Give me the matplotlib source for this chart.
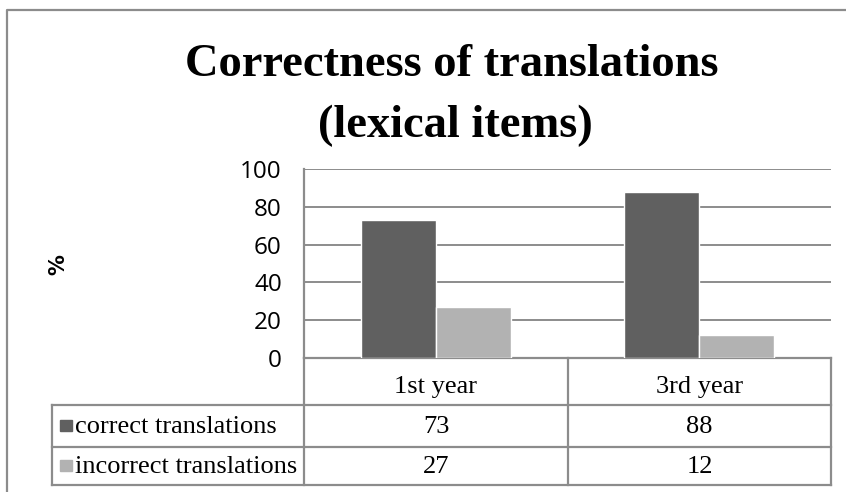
import matplotlib.pyplot as plt

# data
years = ['1st year', '3rd year']
series = ['correct translations', 'incorrect translations']
correct = [73, 88]
incorrect = [27, 12]
yticks = [0, 20, 40, 60, 80, 100]

dark = '#606060'
light = '#b2b2b2'
edge = '#8c8c8c'

W, H = 846, 492
fig = plt.figure(figsize=(W / 100, H / 100), dpi=100)


def fx(px):
    return px / W


def fy(py):
    return 1 - py / H


# overlay in pixel coords for the frame and the data table
ov = fig.add_axes([0, 0, 1, 1])
ov.set_xlim(0, W)
ov.set_ylim(H, 0)
ov.axis('off')

# chart frame (cropped at right and bottom)
ov.plot([7, 7, W + 5], [H + 5, 10, 10], color=edge, lw=1.6)

# title
fig.text(fx(452), fy(76), 'Correctness of translations', ha='center', va='baseline',
         fontsize=33.5, fontweight='bold', family='Liberation Serif')
fig.text(fx(455), fy(137), '(lexical items)', ha='center', va='baseline',
         fontsize=33.5, fontweight='bold', family='Liberation Serif')

# plot area
left, right, top, bottom = 304, 831, 169, 358
ax = fig.add_axes([fx(left), fy(bottom), fx(right - left), (bottom - top) / H])
x = range(len(years))
bw = 0.285
ax.bar([i - bw / 2 for i in x], correct, width=bw, color=dark, edgecolor='white', linewidth=1, zorder=3)
ax.bar([i + bw / 2 for i in x], incorrect, width=bw, color=light, edgecolor='white', linewidth=1, zorder=3)
ax.set_xlim(-0.5, len(years) - 0.5)
ax.set_ylim(0, 100)
ax.set_yticks(yticks)
ax.set_yticklabels([str(t) for t in yticks], fontsize=17.5, family='Open Sans')
ax.set_xticks([])
ax.tick_params(axis='y', length=0, pad=16)
ax.yaxis.grid(True, color=edge, lw=1.4, zorder=0)
for s in ['top', 'right']:
    ax.spines[s].set_visible(False)
ax.spines['left'].set_color(edge)
ax.spines['bottom'].set_color(edge)
ax.spines['left'].set_linewidth(1.6)
ax.spines['bottom'].set_linewidth(1.6)
ax.patch.set_alpha(0)

fig.text(fx(58), fy(265), '%', rotation=90, ha='center', va='center',
         fontsize=15, fontweight='bold', family='DejaVu Sans')

# data table
tleft, mid = 52, 568
rows_y = [358, 405, 447, 485]
for yy in rows_y[1:]:
    ov.plot([tleft, right], [yy, yy], color=edge, lw=1.6)
ov.plot([tleft, tleft], [rows_y[1], rows_y[3]], color=edge, lw=1.6)
for xx in [left, mid, right]:
    ov.plot([xx, xx], [rows_y[0], rows_y[3]], color=edge, lw=1.6)

col_cx = [(left + mid) / 2, (mid + right) / 2]
tfont = dict(fontsize=19, family='Liberation Serif')
for cx, yr in zip(col_cx, years):
    ov.text(cx, 393, yr, ha='center', va='baseline', **tfont)

row_vals = [correct, incorrect]
row_cols = [dark, light]
for r, (name, vals, c) in enumerate(zip(series, row_vals, row_cols)):
    y0, y1 = rows_y[r + 1], rows_y[r + 2]
    cy = (y0 + y1) / 2
    ov.add_patch(plt.Rectangle((60, cy - 6), 12, 11, color=c))
    ov.text(75, cy + 7, name, ha='left', va='baseline', **tfont)
    for cx, v in zip(col_cx, vals):
        ov.text(cx, cy + 7, str(v), ha='center', va='baseline', **tfont)

fig.savefig('out.png', dpi=100)
